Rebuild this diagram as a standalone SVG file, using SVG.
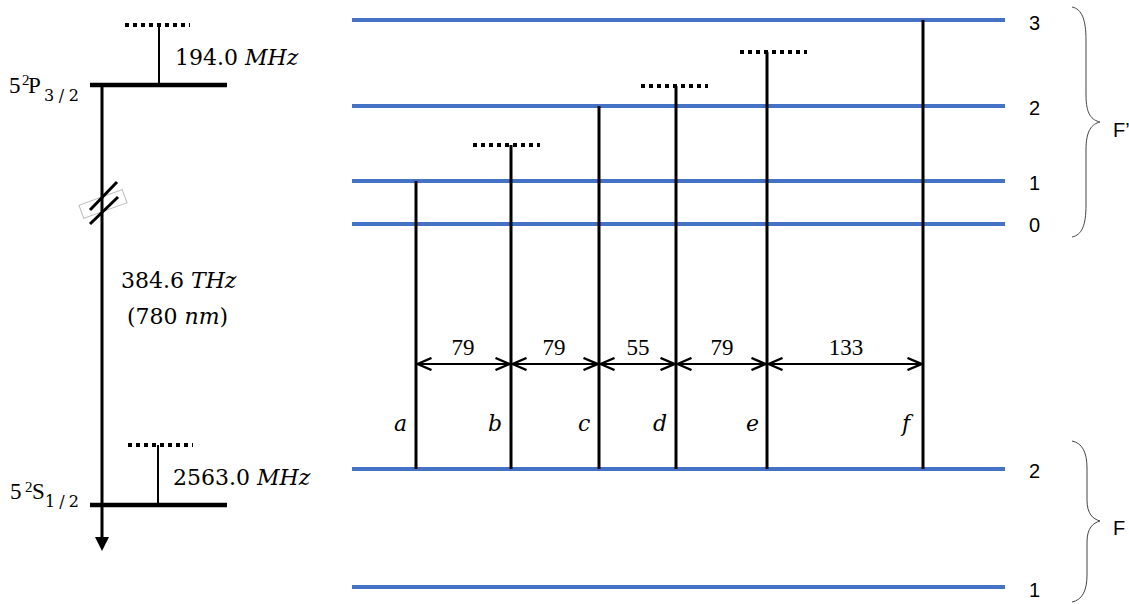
<svg xmlns="http://www.w3.org/2000/svg" width="1129" height="604" viewBox="0 0 1129 604">
<defs>
<style>
.lvl{stroke:#4472C4;stroke-width:4;fill:none}
.tr{stroke:#000;stroke-width:3;fill:none}
.dot{stroke:#000;stroke-width:4;stroke-dasharray:4 4;fill:none}
.thin{stroke:#000;stroke-width:2;fill:none}
.dim{stroke:#000;stroke-width:2;fill:none}
.serif{font-family:"DejaVu Serif","Liberation Serif",serif;font-size:22px;fill:#000}
.num{font-family:"Liberation Serif","DejaVu Serif",serif;font-size:23px;fill:#000}
.sup{font-family:"Liberation Serif","DejaVu Serif",serif;font-size:15px;fill:#000}
.sub{font-family:"DejaVu Serif","Liberation Serif",serif;font-size:16px;fill:#000}
.it{font-style:italic}
.sans{font-family:"Liberation Sans","Open Sans",sans-serif;font-size:20px;fill:#000}
.brace{stroke:#444;stroke-width:1;fill:none}
</style>
<marker id="chev" viewBox="0 0 16 14" refX="15" refY="7" markerWidth="16" markerHeight="14" markerUnits="userSpaceOnUse" orient="auto-start-reverse">
<path d="M1,1 L15,7 L1,13" fill="none" stroke="#000" stroke-width="2.4"/>
</marker>
</defs>
<rect width="1129" height="604" fill="#fff"/>

<g id="left-scheme">
<g id="break">
<rect x="80" y="197" width="46" height="14" transform="rotate(-20 103 204)" fill="#fff" stroke="#bbb" stroke-width="1"/>
</g>
<line x1="102" y1="85" x2="102" y2="538" class="tr"/>
<path d="M95,537 L109,537 L102,551 Z" fill="#000"/>
<line x1="90" y1="210" x2="117" y2="182" class="tr"/>
<line x1="90" y1="224" x2="118" y2="197" class="tr"/>
<line x1="90" y1="85" x2="227" y2="85" stroke="#000" stroke-width="4.5"/>
<line x1="125" y1="25" x2="190" y2="25" class="dot"/>
<line x1="159" y1="25" x2="159" y2="85" class="thin"/>
<text x="175" y="65" class="serif">194.0 <tspan class="it">MHz</tspan></text>
<g id="label-P">
<text x="9" y="93" class="num">5</text>
<text x="22" y="85" class="sup">2</text>
<text x="28" y="93" class="num">P</text>
<text x="44" y="101" class="sub" textLength="35" lengthAdjust="spacing">3/2</text>
</g>

<line x1="90" y1="505" x2="227" y2="505" stroke="#000" stroke-width="4.5"/>
<line x1="128" y1="445" x2="193" y2="445" class="dot"/>
<line x1="158" y1="445" x2="158" y2="505" class="thin"/>
<text x="173" y="485" class="serif">2563.0 <tspan class="it">MHz</tspan></text>
<g id="label-S">
<text x="10" y="499" class="num">5</text>
<text x="25" y="492" class="sup">2</text>
<text x="32" y="499" class="num">S</text>
<text x="45" y="507" class="sub" textLength="34" lengthAdjust="spacing">1/2</text>
</g>

<text x="121" y="288" class="serif">384.6 <tspan class="it">THz</tspan></text>
<text x="127" y="324" class="serif">(780 <tspan class="it">nm</tspan>)</text>
</g>

<g id="levels">
<line x1="352" y1="20" x2="1005" y2="20" class="lvl"/>
<line x1="352" y1="106" x2="1005" y2="106" class="lvl"/>
<line x1="352" y1="181" x2="1005" y2="181" class="lvl"/>
<line x1="352" y1="224" x2="1005" y2="224" class="lvl"/>
<line x1="352" y1="469" x2="1005" y2="469" class="lvl"/>
<line x1="352" y1="587" x2="1005" y2="587" class="lvl"/>
<text x="1029" y="30" class="sans">3</text>
<text x="1029" y="115" class="sans">2</text>
<text x="1029" y="190" class="sans">1</text>
<text x="1029" y="232" class="sans">0</text>
<text x="1029" y="478" class="sans">2</text>
<text x="1029" y="597" class="sans">1</text>
</g>

<g id="virtual-levels">
<line x1="473" y1="145" x2="540" y2="145" class="dot"/>
<line x1="641" y1="86" x2="708" y2="86" class="dot"/>
<line x1="740" y1="52" x2="807" y2="52" class="dot"/>
</g>

<g id="transitions">
<line x1="416" y1="181" x2="416" y2="469" class="tr"/>
<line x1="511" y1="145" x2="511" y2="469" class="tr"/>
<line x1="599" y1="106" x2="599" y2="469" class="tr"/>
<line x1="676" y1="86" x2="676" y2="469" class="tr"/>
<line x1="767" y1="52" x2="767" y2="469" class="tr"/>
<line x1="923" y1="20" x2="923" y2="469" class="tr"/>
<g class="serif it" font-size="23">
<text x="394" y="431">a</text>
<text x="488" y="431">b</text>
<text x="578" y="431">c</text>
<text x="653" y="431">d</text>
<text x="746" y="431">e</text>
<text x="902" y="431">f</text>
</g>
</g>

<g id="connectors">
<line x1="417.5" y1="364" x2="509.5" y2="364" class="dim" marker-start="url(#chev)" marker-end="url(#chev)"/>
<line x1="512.5" y1="364" x2="597.5" y2="364" class="dim" marker-start="url(#chev)" marker-end="url(#chev)"/>
<line x1="600.5" y1="364" x2="674.5" y2="364" class="dim" marker-start="url(#chev)" marker-end="url(#chev)"/>
<line x1="677.5" y1="364" x2="765.5" y2="364" class="dim" marker-start="url(#chev)" marker-end="url(#chev)"/>
<line x1="768.5" y1="364" x2="921.5" y2="364" class="dim" marker-start="url(#chev)" marker-end="url(#chev)"/>
<g class="num" text-anchor="middle">
<text x="463" y="355">79</text>
<text x="554" y="355">79</text>
<text x="638" y="355">55</text>
<text x="722" y="355">79</text>
<text x="846" y="355">133</text>
</g>
</g>

<g id="braces">
<path d="M1072,7 C1082,9 1086,20 1086,40 L1086,95 C1086,115 1092,120 1100,122 C1092,124 1086,130 1086,150 L1086,205 C1086,225 1082,235 1072,237" class="brace"/>
<text x="1113" y="137" class="sans">F’</text>
<path d="M1072,441 C1082,443 1087,452 1087,468 L1087,500 C1087,514 1093,519 1100,521 C1093,523 1087,528 1087,542 L1087,575 C1087,591 1082,600 1072,602" class="brace"/>
<text x="1113" y="535" class="sans">F</text>
</g>
</svg>
